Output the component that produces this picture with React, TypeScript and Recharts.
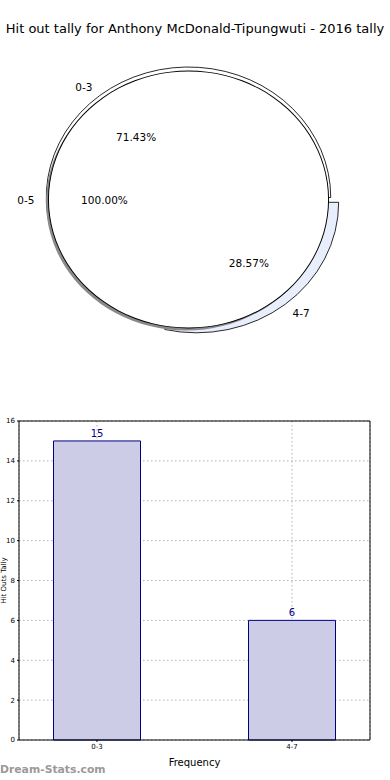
import { PieChart, Pie, Cell, BarChart, Bar, XAxis, YAxis, CartesianGrid, ReferenceLine, LabelList } from 'recharts';

const categories = ['0-3', '4-7'];
const counts = [15, 6];
const totalLabel = '0-5';
const totalCount = [21];
const yTicks = [0, 2, 4, 6, 8, 10, 12, 14, 16];

const ringData = categories.map((name, i) => ({ name, value: counts[i] }));
const innerData = [{ name: totalLabel, value: totalCount[0] }];
const barData = categories.map((name, i) => ({ name, pos: i, value: counts[i] }));

// matplotlib drew the pie squashed, so stretch the circle horizontally
const SX = 1.09;
const CX = 188.5;
const CY = 199.5;
const RI = 128.5;
const RO = 130.5;
const RAD = Math.PI / 180;
const FONT = '"DejaVu Sans", sans-serif';

function pieLabel(only: string) {
  return (p: any) => {
    if (p.name !== only) return null;
    const ang = -p.midAngle * RAD;
    const nx = p.cx + RI * 1.1 * Math.cos(ang);
    const ny = p.cy + RI * 1.1 * Math.sin(ang);
    const px = p.cx + RI * 0.6 * Math.cos(ang);
    const py = p.cy + RI * 0.6 * Math.sin(ang);
    const pct = ((p.percent ?? 1) * 100).toFixed(2) + '%';
    return (
      <g>
        <text
          transform={`translate(${nx},${ny}) scale(${1 / SX},1)`}
          textAnchor={nx < p.cx - 1 ? 'end' : 'start'}
          dominantBaseline="central"
          fontSize={10.5}
          fontFamily={FONT}
          fill="#000"
        >
          {p.name}
        </text>
        <text
          transform={`translate(${px},${py}) scale(${1 / SX},1)`}
          textAnchor="middle"
          dominantBaseline="central"
          fontSize={10.5}
          fontFamily={FONT}
          fill="#000"
        >
          {pct}
        </text>
      </g>
    );
  };
}

// y title sits in the narrow gap left of the tick labels
const yTitle = (p: any) => {
  const vb = p.viewBox || { y: 11, height: 319 };
  const y = vb.y + vb.height / 2;
  return (
    <text x={4} y={y} transform={`rotate(-90 4 ${y})`} textAnchor="middle" dominantBaseline="central"
      fontSize={7} fontFamily={FONT} fill="#000">
      Hit Outs Tally
    </text>
  );
};

export default function App() {
  return (
    <div style={{ position: 'absolute', left: 0, top: 0, width: 390, height: 780, overflow: 'hidden', background: '#fff' }}>
      <div style={{ position: 'absolute', top: 21, left: 0, width: 390, textAlign: 'center', fontFamily: FONT, fontSize: 13, whiteSpace: 'nowrap' }}>
        Hit out tally for Anthony McDonald-Tipungwuti - 2016 tally
      </div>

      <div style={{ position: 'absolute', left: 0, top: 0, transform: `scaleX(${SX})`, transformOrigin: `${CX}px 0` }}>
        <PieChart width={390} height={380} margin={{ top: 0, right: 0, bottom: 0, left: 0 }}>
          <Pie data={ringData} dataKey="value" nameKey="name" cx={CX} cy={CY - 2} outerRadius={RO} innerRadius={0}
            startAngle={0} endAngle={360} isAnimationActive={false} label={pieLabel('0-3')} labelLine={false}>
            {ringData.map((d, i) => (
              <Cell key={i} fill={i === 0 ? '#fff' : 'none'} stroke={i === 0 ? '#000' : 'none'} strokeWidth={0.8} />
            ))}
          </Pie>
          <Pie data={ringData} dataKey="value" nameKey="name" cx={CX + 7.3} cy={CY - 2 + 4.8} outerRadius={RO} innerRadius={0}
            startAngle={0} endAngle={360} isAnimationActive={false} label={pieLabel('4-7')} labelLine={false}>
            {ringData.map((d, i) => (
              <Cell key={i} fill={i === 1 ? '#e8eefb' : 'none'} stroke={i === 1 ? '#000' : 'none'} strokeWidth={0.8} />
            ))}
          </Pie>
          <Pie data={innerData} dataKey="value" nameKey="name" cx={CX - 2.2} cy={CY + 2.5} outerRadius={RI}
            isAnimationActive={false} fill="#8a8a8a" stroke="none" />
          <Pie data={innerData} dataKey="value" nameKey="name" cx={CX} cy={CY} outerRadius={RI}
            startAngle={0} endAngle={360} isAnimationActive={false} fill="#fff" stroke="none"
            label={pieLabel('0-5')} labelLine={false} />
          {/* outline of the full 0-5 disc, drawn as a thin ring so no radius line shows */}
          <Pie data={innerData} dataKey="value" nameKey="name" cx={CX} cy={CY} outerRadius={RI + 0.45} innerRadius={RI - 0.45}
            startAngle={0} endAngle={360} isAnimationActive={false} fill="#000" stroke="none" />
        </PieChart>
      </div>

      <div style={{ position: 'absolute', left: 0, top: 410 }}>
        <BarChart width={390} height={370} data={barData} margin={{ top: 11, right: 20, bottom: 0, left: 0 }}>
          <CartesianGrid stroke="#b0b0b0" strokeDasharray="1.5 2.5" />
          <XAxis
            type="number"
            dataKey="pos"
            domain={[-0.4, 1.4]}
            ticks={[0, 1]}
            allowDataOverflow
            tickFormatter={(v: number) => categories[v] ?? ''}
            height={40}
            tickSize={2}
            stroke="#000"
            tick={{ fontSize: 7, fill: '#000', fontFamily: FONT }}
            label={{ value: 'Frequency', position: 'insideBottom', offset: 14, fontSize: 10, fill: '#000', fontFamily: FONT }}
          />
          <YAxis
            domain={[0, 16]}
            ticks={yTicks}
            width={19}
            tickSize={2}
            stroke="#000"
            tick={{ fontSize: 7, fill: '#000', fontFamily: FONT }}
            label={{ value: 'Hit Outs Tally', content: yTitle }}
          />
          <ReferenceLine y={16} stroke="#000" />
          <ReferenceLine x={1.4} stroke="#000" />
          <Bar dataKey="value" barSize={87} fill="#ccccE6" stroke="#000080" strokeWidth={1} isAnimationActive={false}>
            <LabelList dataKey="value" position="top" offset={4} fontSize={10} fill="#000080" fontFamily={FONT} />
          </Bar>
        </BarChart>
      </div>

      <div style={{ position: 'absolute', left: 0, top: 763, fontFamily: FONT, fontSize: 10.8, fontWeight: 'bold', color: '#9a9a9a', whiteSpace: 'nowrap' }}>
        Dream-Stats.com
      </div>
    </div>
  );
}
